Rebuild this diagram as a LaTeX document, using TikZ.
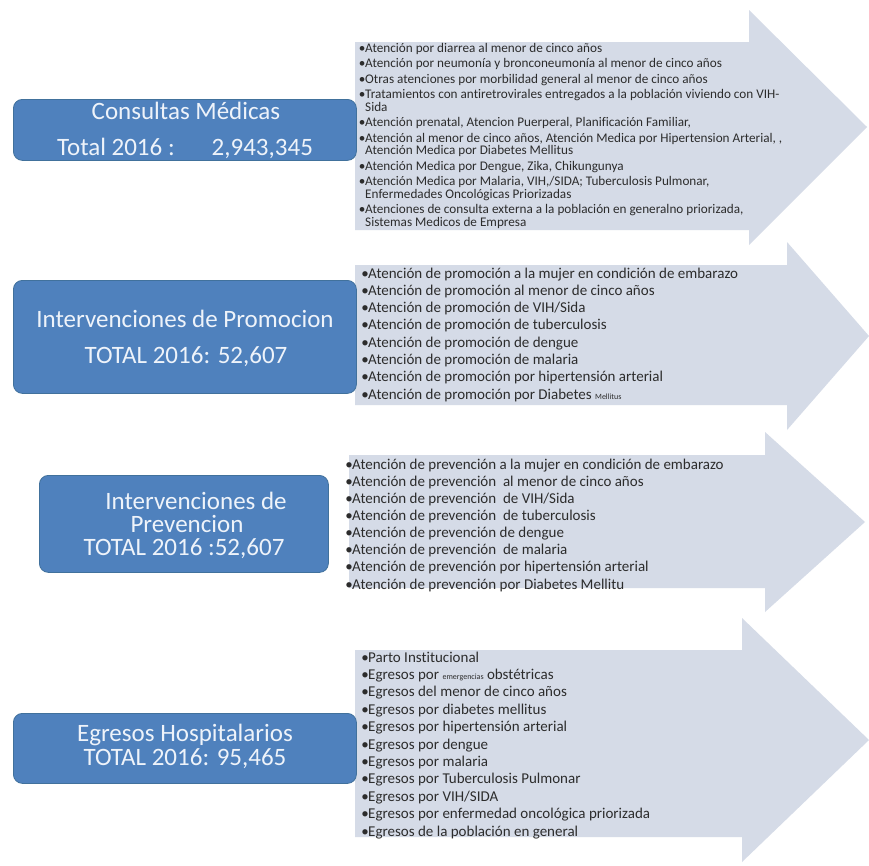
\documentclass[tikz,border=0pt]{standalone}
\usepackage{fontspec}
\setmainfont{Carlito}[Ligatures=NoCommon]
\definecolor{boxblue}{HTML}{4F81BD}
\definecolor{boxedge}{HTML}{41719C}
\definecolor{arrowfill}{HTML}{D5DBE7}
\definecolor{txtgray}{HTML}{2C2C2C}
\definecolor{boxtxt}{HTML}{EEF3FA}
\newcommand\bu{\makebox[6pt][c]{\textbullet}}
\begin{document}
\begin{tikzpicture}[x=1pt,y=-1pt,
  boxnode/.style={fill=boxblue, draw=boxedge, line width=0.8pt, rounded corners=9pt, anchor=north west, inner sep=0pt},
  title/.style={text=boxtxt, font=\fontsize{25}{25}\selectfont, anchor=base, inner sep=0pt},
  arrowshape/.style={fill=arrowfill, draw=none},
  lineA/.style={anchor=base west, inner sep=0pt, text=txtgray, font=\fontsize{13.2}{13.2}\selectfont},
  lineB/.style={anchor=base west, inner sep=0pt, text=txtgray, font=\fontsize{15}{15}\selectfont}]
\useasboundingbox (0,0) rectangle (869,865);
\fill[white] (0,0) rectangle (869,865);

% arrows
\fill[arrowshape] (355,42) -- (749,42) -- (749,10) -- (867,127) -- (749,245) -- (749,230) -- (355,230) -- cycle;
\fill[arrowshape] (355,265) -- (787,265) -- (787,242) -- (869,336) -- (787,430) -- (787,405) -- (355,405) -- cycle;
\fill[arrowshape] (349,455) -- (765,455) -- (765,432) -- (865,522) -- (765,612) -- (765,588) -- (349,588) -- cycle;
\fill[arrowshape] (355,650) -- (742,650) -- (742,618) -- (869,740) -- (742,862) -- (742,837) -- (355,837) -- cycle;

% boxes
\node[boxnode, minimum width=343pt, minimum height=61pt] (b1) at (13,99) {};
\node[boxnode, minimum width=343pt, minimum height=113pt] (b2) at (13,280) {};
\node[boxnode, minimum width=289pt, minimum height=97pt] (b3) at (39,475) {};
\node[boxnode, minimum width=343pt, minimum height=70pt] (b4) at (13,713) {};

\node[title] (b1a) at (186,119) {Consultas Médicas};
\node[title] (b1b) at (185,155) {Total 2016 :\hspace{37pt}2,943,345};
\node[title] (b2a) at (185,327) {Intervenciones de Promocion};
\node[title] (b2b) at (186,363) {TOTAL 2016: 52,607};
\node[title] (b3a) at (196,509) {Intervenciones de};
\node[title] (b3b) at (187,532) {Prevencion};
\node[title] (b3c) at (184,555) {TOTAL 2016 :52,607};
\node[title] (b4a) at (185,741) {Egresos Hospitalarios};
\node[title] (b4b) at (185,765) {TOTAL 2016: 95,465};

% arrow 1 text
\node[lineA] (a1l1) at (359,52) {\bu Atención por diarrea al menor de cinco años};
\node[lineA] (a1l2) at (359,67.5) {\bu Atención por neumonía y bronconeumonía al menor de cinco años};
\node[lineA] (a1l3) at (359,83) {\bu Otras atenciones por morbilidad general al menor de cinco años};
\node[lineA] (a1l4) at (359,98.5) {\bu Tratamientos con antiretrovirales entregados a la población viviendo con VIH-};
\node[lineA] (a1l5) at (365,111) {Sida};
\node[lineA] (a1l6) at (359,126.5) {\bu Atención prenatal, Atencion Puerperal, Planificación Familiar,};
\node[lineA] (a1l7) at (359,142) {\bu Atención al menor de cinco años, Atención Medica por Hipertension Arterial, ,};
\node[lineA] (a1l8) at (365,154.5) {Atención Medica por Diabetes Mellitus};
\node[lineA] (a1l9) at (359,170) {\bu Atención Medica por Dengue, Zika, Chikungunya};
\node[lineA] (a1l10) at (359,185.5) {\bu Atención Medica por Malaria, VIH,/SIDA; Tuberculosis Pulmonar,};
\node[lineA] (a1l11) at (365,198) {Enfermedades Oncológicas Priorizadas};
\node[lineA] (a1l12) at (359,213.5) {\bu Atenciones de consulta externa a la población en generalno priorizada,};
\node[lineA] (a1l13) at (365,226) {Sistemas Medicos de Empresa};

% arrow 2 text
\node[lineB] (a2l1) at (362,278) {\bu Atención de promoción a la mujer en condición de embarazo};
\node[lineB] (a2l2) at (362,295.3) {\bu Atención de promoción al menor de cinco años};
\node[lineB] (a2l3) at (362,312.6) {\bu Atención de promoción de VIH/Sida};
\node[lineB] (a2l4) at (362,329.9) {\bu Atención de promoción de tuberculosis};
\node[lineB] (a2l5) at (362,347.2) {\bu Atención de promoción de dengue};
\node[lineB] (a2l6) at (362,364.5) {\bu Atención de promoción de malaria};
\node[lineB] (a2l7) at (362,381.8) {\bu Atención de promoción por hipertensión arterial};
\node[lineB] (a2l8) at (362,399.1) {\bu Atención de promoción por Diabetes {\fontsize{8}{8}\selectfont Mellitus}};

% arrow 3 text
\node[lineB] (a3l1) at (346,469) {\bu Atención de prevención a la mujer en condición de embarazo};
\node[lineB] (a3l2) at (346,486.1) {\bu Atención de prevención\ \ al menor de cinco años};
\node[lineB] (a3l3) at (346,503.3) {\bu Atención de prevención\ \ de VIH/Sida};
\node[lineB] (a3l4) at (346,520.4) {\bu Atención de prevención\ \ de tuberculosis};
\node[lineB] (a3l5) at (346,537.6) {\bu Atención de prevención de dengue};
\node[lineB] (a3l6) at (346,554.7) {\bu Atención de prevención\ \ de malaria};
\node[lineB] (a3l7) at (346,571.9) {\bu Atención de prevención por hipertensión arterial};
\node[lineB] (a3l8) at (346,589) {\bu Atención de prevención por Diabetes Mellitu};

% arrow 4 text
\node[lineB] (a4l1) at (362,662) {\bu Parto Institucional};
\node[lineB] (a4l2) at (362,679.4) {\bu Egresos por {\fontsize{8}{8}\selectfont emergencias} obstétricas};
\node[lineB] (a4l3) at (362,696.8) {\bu Egresos del menor de cinco años};
\node[lineB] (a4l4) at (362,714.2) {\bu Egresos por diabetes mellitus};
\node[lineB] (a4l5) at (362,731.6) {\bu Egresos por hipertensión arterial};
\node[lineB] (a4l6) at (362,749) {\bu Egresos por dengue};
\node[lineB] (a4l7) at (362,766.4) {\bu Egresos por malaria};
\node[lineB] (a4l8) at (362,783.8) {\bu Egresos por Tuberculosis Pulmonar};
\node[lineB] (a4l9) at (362,801.2) {\bu Egresos por VIH/SIDA};
\node[lineB] (a4l10) at (362,818.6) {\bu Egresos por enfermedad oncológica priorizada};
\node[lineB] (a4l11) at (362,836) {\bu Egresos de la población en general};
\end{tikzpicture}
\end{document}
